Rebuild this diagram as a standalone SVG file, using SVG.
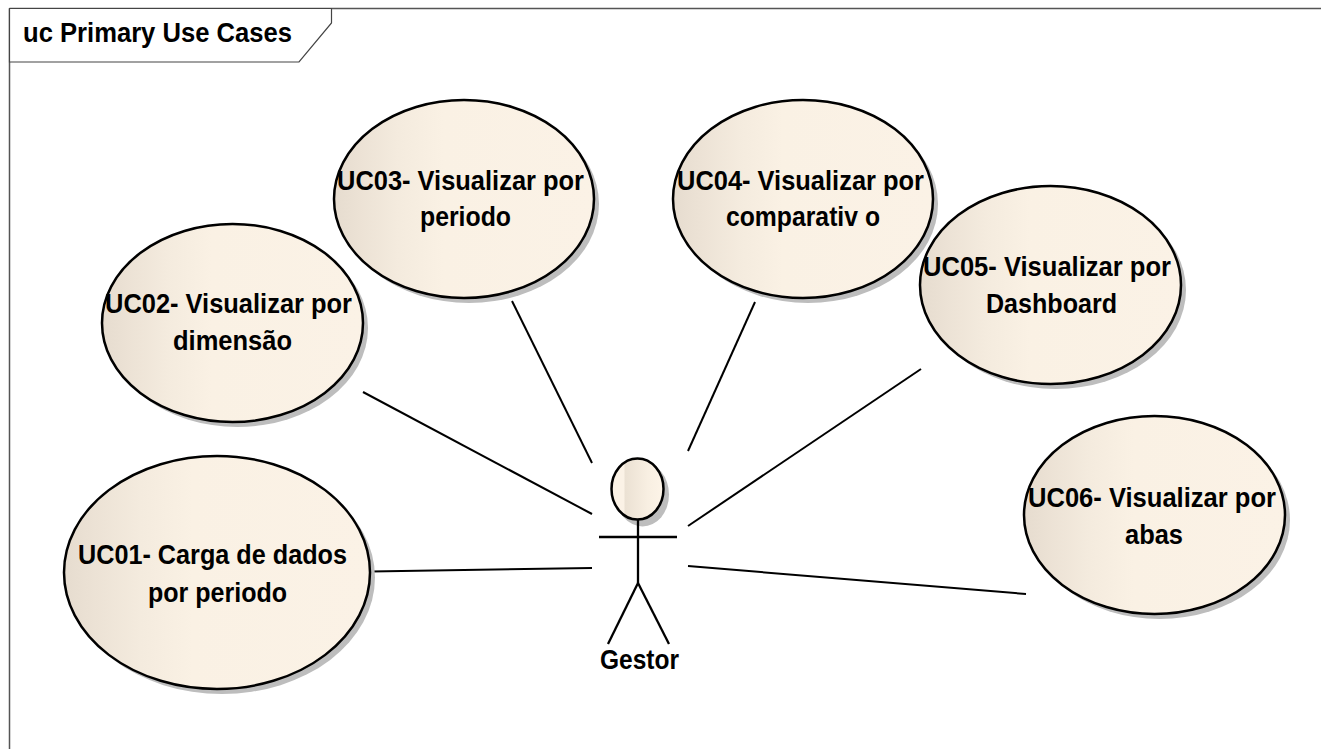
<svg xmlns="http://www.w3.org/2000/svg" width="1321" height="749" viewBox="0 0 1321 749">
<defs>
<linearGradient id="uc" x1="0" y1="0" x2="1" y2="0">
<stop offset="0" stop-color="#e6dccf"/><stop offset="0.1" stop-color="#ece2d5"/><stop offset="0.25" stop-color="#f4ebde"/><stop offset="0.42" stop-color="#faf1e4"/><stop offset="1" stop-color="#fbf2e6"/>
</linearGradient>
<linearGradient id="head" x1="0" y1="0" x2="1" y2="0">
<stop offset="0" stop-color="#fbf2e6"/><stop offset="0.24" stop-color="#fbf2e6"/><stop offset="0.26" stop-color="#ebe1d3"/><stop offset="0.7" stop-color="#f8efe2"/><stop offset="1" stop-color="#fdf4e8"/>
</linearGradient>
</defs>
<style>
text{font-family:"Liberation Sans",Arial,sans-serif;font-weight:700;font-size:27px;fill:#000}
.oval{fill:url(#uc);stroke:#000;stroke-width:2.5}
.shadow{fill:#bdbdbd}
.conn line{stroke:#000;stroke-width:2}
.actor line{stroke:#000;stroke-width:2.3}
</style>
<rect width="1321" height="749" fill="#fff"/>
<g id="frame">
<path d="M9.5 8.500H1321M9.500 8.500V749" fill="none" stroke="#555" stroke-width="1.500"/>
<path d="M9.500 8.500H331.500V23L299 62H9.500Z" fill="#fff" stroke="#444" stroke-width="1.200"/>
<text x="23" y="42" textLength="269" lengthAdjust="spacingAndGlyphs">uc Primary Use Cases</text>
</g>
<g id="connectors" class="conn">
<line x1="371" y1="571.500" x2="592" y2="568"/>
<line x1="363" y1="392" x2="592" y2="514"/>
<line x1="512" y1="301" x2="592" y2="463"/>
<line x1="755" y1="302" x2="688" y2="451"/>
<line x1="921" y1="369" x2="688" y2="526"/>
<line x1="688" y1="566" x2="1026" y2="594"/>
</g>
<g id="uc01"><ellipse class="shadow" cx="222" cy="577.500" rx="153" ry="116.500"/><ellipse class="oval" cx="217" cy="572.500" rx="153" ry="116.500"/><text x="78" y="564" textLength="269" lengthAdjust="spacingAndGlyphs">UC01- Carga de dados</text><text x="148" y="602" textLength="139" lengthAdjust="spacingAndGlyphs">por periodo</text></g>
<g id="uc02"><ellipse class="shadow" cx="237.500" cy="328" rx="130.500" ry="99"/><ellipse class="oval" cx="232.500" cy="323" rx="130.500" ry="99"/><text x="105" y="313" textLength="247" lengthAdjust="spacingAndGlyphs">UC02- Visualizar por</text><text x="173" y="350" textLength="119" lengthAdjust="spacingAndGlyphs">dimensão</text></g>
<g id="uc03"><ellipse class="shadow" cx="469" cy="204" rx="130" ry="99"/><ellipse class="oval" cx="464" cy="199" rx="130" ry="99"/><text x="337" y="190" textLength="247" lengthAdjust="spacingAndGlyphs">UC03- Visualizar por</text><text x="420" y="226" textLength="91" lengthAdjust="spacingAndGlyphs">periodo</text></g>
<g id="uc04"><ellipse class="shadow" cx="808" cy="204" rx="130" ry="99"/><ellipse class="oval" cx="803" cy="199" rx="130" ry="99"/><text x="677" y="190" textLength="247" lengthAdjust="spacingAndGlyphs">UC04- Visualizar por</text><text x="726" y="226" textLength="154" lengthAdjust="spacingAndGlyphs">comparativ o</text></g>
<g id="uc05"><ellipse class="shadow" cx="1055.500" cy="290" rx="130.500" ry="99"/><ellipse class="oval" cx="1050.500" cy="285" rx="130.500" ry="99"/><text x="923" y="276" textLength="248" lengthAdjust="spacingAndGlyphs">UC05- Visualizar por</text><text x="986" y="313" textLength="131" lengthAdjust="spacingAndGlyphs">Dashboard</text></g>
<g id="uc06"><ellipse class="shadow" cx="1159.500" cy="520" rx="130.500" ry="99"/><ellipse class="oval" cx="1154.500" cy="515" rx="130.500" ry="99"/><text x="1028" y="507" textLength="248" lengthAdjust="spacingAndGlyphs">UC06- Visualizar por</text><text x="1125" y="544" textLength="58" lengthAdjust="spacingAndGlyphs">abas</text></g>
<g id="gestor" class="actor">
<ellipse class="shadow" cx="642.500" cy="494.500" rx="26.500" ry="32"/>
<ellipse cx="637.500" cy="489" rx="26" ry="30.500" fill="url(#head)" stroke="#000" stroke-width="2.500"/>
<line x1="638" y1="520" x2="638" y2="583"/>
<line x1="599" y1="537" x2="677" y2="537"/>
<line x1="638" y1="583" x2="608" y2="644"/>
<line x1="638" y1="583" x2="669" y2="644"/>
<text x="600" y="669" textLength="79" lengthAdjust="spacingAndGlyphs">Gestor</text>
</g>
</svg>
